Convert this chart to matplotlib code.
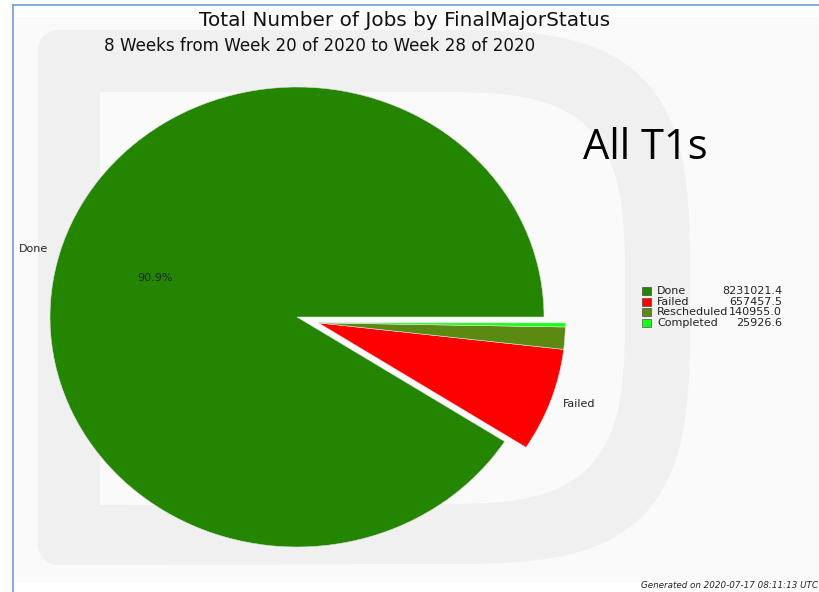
"""
Grafico de tarta: numero total de jobs por FinalMajorStatus (All T1s).
"""

import numpy as np
import matplotlib
matplotlib.use("Agg")
import matplotlib.pyplot as plt
from matplotlib.path import Path
from matplotlib.patches import PathPatch, Rectangle

# datos
estados = ["Done", "Failed", "Rescheduled", "Completed"]
valores = [8231021.4, 657457.5, 140955.0, 25926.6]
colores = ["#238500", "#ff0000", "#5a8a12", "#1aff1a"]
etiquetas_visibles = ["Done", "Failed", "", ""]
grupo_separado = [False, True, True, True]

titulo = "Total Number of Jobs by FinalMajorStatus"
subtitulo = "8 Weeks from Week 20 of 2020 to Week 28 of 2020"
nota = "Generated on 2020-07-17 08:11:13 UTC"
anotacion = "All T1s"

W, H = 819, 592
fig = plt.figure(figsize=(W / 100, H / 100), dpi=100)
fig.patch.set_facecolor("white")

# capa de fondo en pixeles
bg = fig.add_axes([0, 0, 1, 1], zorder=0)
bg.set_xlim(0, W)
bg.set_ylim(H, 0)
bg.axis("off")

bg.add_patch(Rectangle((16, 17), W - 16, 565, facecolor="#fafafa",
                       edgecolor="none"))
bg.plot([13, 13], [5, H], color="#6f9fd0", lw=1.2)
bg.plot([13, W], [5, 5], color="#6f9fd0", lw=1.2)


def forma_d(x0, y0, y1, cx, a, cy, b, r=0, n=3.5):
    """Contorno en forma de D (marca de agua)."""
    t = np.linspace(-np.pi / 2, np.pi / 2, 120)
    xs = cx + a * np.sign(np.cos(t)) * np.abs(np.cos(t)) ** (2 / n)
    ys = cy + b * np.sign(np.sin(t)) * np.abs(np.sin(t)) ** (2 / n)
    pts = [(x0 + r, y0)] + list(zip(xs, ys)) + [(x0 + r, y1)]
    if r > 0:
        a2 = np.linspace(np.pi / 2, np.pi, 20)
        pts += [(x0 + r + r * np.cos(q), y1 - r + r * np.sin(q)) for q in a2]
        a3 = np.linspace(np.pi, 1.5 * np.pi, 20)
        pts += [(x0 + r + r * np.cos(q), y0 + r + r * np.sin(q)) for q in a3]
    else:
        pts += [(x0, y1), (x0, y0)]
    pts.append(pts[0])
    return Path(pts)


bg.add_patch(PathPatch(forma_d(38, 30, 565, 425, 265, 297, 267, r=20),
                       facecolor="#f0f0f0", edgecolor="none"))
bg.add_patch(PathPatch(forma_d(100, 92, 505, 425, 200, 298, 206),
                       facecolor="#fafafa", edgecolor="none"))

# titulos y textos
bg.text(405, 21, titulo, ha="center", va="center", fontsize=14.4,
        color="#111111")
bg.text(320, 46, subtitulo, ha="center", va="center", fontsize=12.1,
        color="#111111")
bg.text(583, 148, anotacion, ha="left", va="center", fontsize=30,
        family="Open Sans", color="black")
bg.text(W - 1, 585, nota, ha="right", va="center", fontsize=6.3,
        style="italic", color="#222222")

# leyenda manual
for i, (est, val, col) in enumerate(zip(estados, valores, colores)):
    y = 291 + i * 10.7
    bg.add_patch(Rectangle((642, y - 4), 9, 8, facecolor=col,
                           edgecolor="#333333", lw=0.4))
    bg.text(657, y, est, ha="left", va="center", fontsize=8,
            color="#222222")
    bg.text(782, y, f"{val:.1f}", ha="right", va="center", fontsize=8,
            color="#222222")

# tarta (la captura esta algo estirada en horizontal)
sx, sy = 247, 230
cx, cy = 297, 317
L = 1.3
ax = fig.add_axes([(cx - sx * L) / W, (H - cy - sy * L) / H,
                   2 * sx * L / W, 2 * sy * L / H], zorder=1)
ax.patch.set_alpha(0)

cunas, textos, pct = ax.pie(
    valores,
    labels=etiquetas_visibles,
    colors=colores,
    startangle=0,
    labeldistance=1.05,
    autopct=lambda p: f"{p:.1f}%" if p > 10 else "",
    pctdistance=0.6,
    wedgeprops=dict(edgecolor="#e0e0e0", linewidth=0.4),
    textprops=dict(fontsize=8, color="#222222"),
)

# las porciones pequenas se separan juntas, como un bloque
fracciones = np.array(valores) / sum(valores)
inicio = 360 * fracciones[0]
medio = np.deg2rad((inicio + 360) / 2)
dx, dy = 0.09 * np.cos(medio), 0.09 * np.sin(medio)
for cuna, txt, sep in zip(cunas, textos, grupo_separado):
    if sep:
        cuna.set_center((dx, dy))
        x, y = txt.get_position()
        txt.set_position((x + dx, y + dy))

ax.set_aspect("auto")
ax.set_xlim(-L, L)
ax.set_ylim(-L, L)
ax.axis("off")

fig.savefig("out.png", dpi=100)
